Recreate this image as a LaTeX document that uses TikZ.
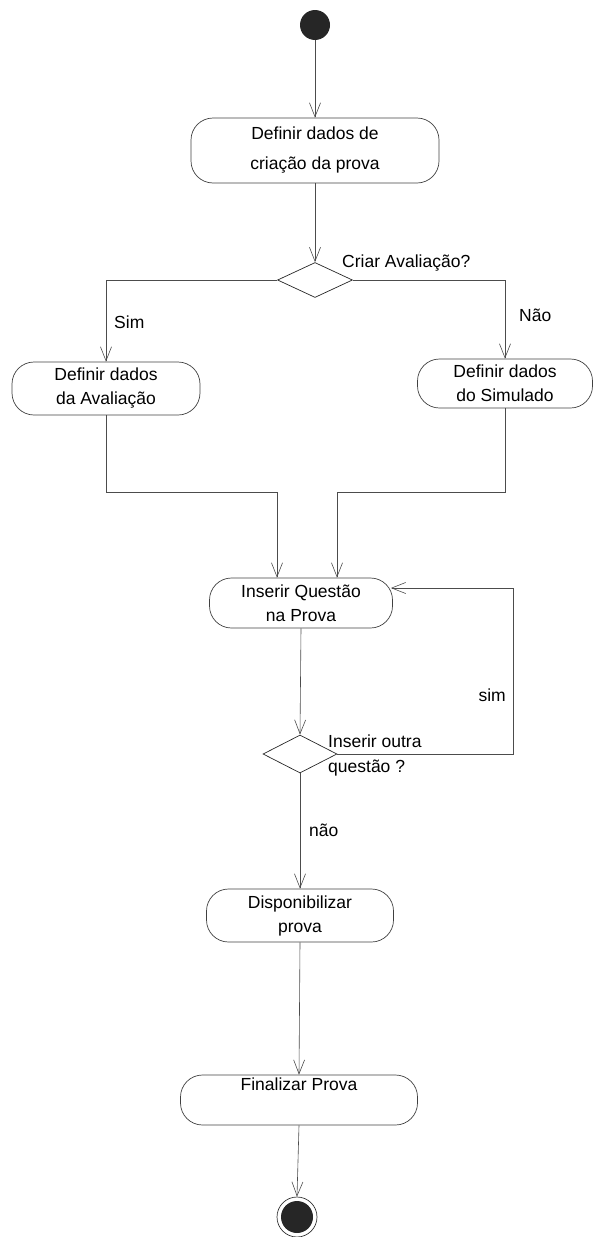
\documentclass[tikz,border=0pt]{standalone}
\usepackage{fontspec}
\setmainfont{Liberation Sans}
\usetikzlibrary{shapes.geometric,arrows.meta,calc}
\begin{document}
\begin{tikzpicture}[x=1pt,y=-1pt,
  act/.style={draw=black!75, line width=0.7pt, rounded corners=22pt, inner sep=0pt, align=center,
              font=\fontsize{17.5}{24}\selectfont},
  dec/.style={draw=black!85, line width=0.7pt, diamond, inner sep=0pt},
  flow/.style={draw=black!70, line width=0.6pt, -{Straight Barb[length=14pt,width=11pt]}},
  link/.style={draw=black!70, line width=0.6pt},
  lbl/.style={font=\fontsize{17.5}{25}\selectfont, inner sep=0pt}]
\useasboundingbox (0,0) rectangle (592,1237);

% start / end
\node[circle, fill=black!85, minimum size=30pt, inner sep=0pt] (start) at (315,25) {};
\node[circle, draw=black!80, line width=0.7pt, minimum size=40pt, inner sep=0pt] (endo) at (297,1217) {};
\node[circle, fill=black!85, minimum size=32pt, inner sep=0pt] (endi) at (297,1217) {};

% actions
\node[act, minimum width=248pt, minimum height=65pt] (b1) at (315,150.5) {Definir dados de\\[6pt]criação da prova};
\node[act, minimum width=188pt, minimum height=53pt] (b2) at (106,388.5) {Definir dados\\da Avaliação};
\node[act, minimum width=175pt, minimum height=49pt] (b3) at (505,383.5) {Definir dados\\do Simulado};
\node[act, minimum width=183pt, minimum height=50pt] (b4) at (301,603) {Inserir Questão\\na Prova};
\node[act, minimum width=187pt, minimum height=53pt] (b5) at (300,915.5) {Disponibilizar\\prova};
\node[act, minimum width=237pt, minimum height=50pt] (b6) at (299,1100) {Finalizar Prova\\\strut};

% decisions
\node[dec, minimum width=75pt, minimum height=35pt] (d1) at (315,280) {};
\node[dec, minimum width=74pt, minimum height=38pt] (d2) at (300,754) {};

% bends
\coordinate (m1) at (277,492);
\coordinate (m2) at (337,492);
\coordinate (lp) at (513,588);

% connectors
\draw[flow] (start) -- (b1);
\draw[flow] (b1) -- (d1);
\draw[flow] (d1.west) -| (b2.north);
\draw[flow] (d1.east) -| (b3.north);
\draw[link] (b2.south) |- (m1);
\draw[flow] (m1) -- (m1 |- b4.north);
\draw[link] (b3.south) |- (m2);
\draw[flow] (m2) -- (m2 |- b4.north);
\draw[flow] (b4.south) -- (d2.north);
\draw[link] (d2.east) -| (lp);
\draw[flow] (lp) -- ($(b4.east |- lp)+(-2,0)$);
\draw[flow] (d2.south) -- (b5.north);
\draw[flow] (b5.south) -- (b6.north);
\draw[flow] (b6.south) -- (endo.north);

% labels
\node[lbl, anchor=west] (t1) at (342,263) {Criar Avaliação?};
\node[lbl, anchor=west] (t2) at (114,322) {Sim};
\node[lbl, anchor=west] (t3) at (519,315) {Não};
\node[lbl, anchor=east] (t4) at (506,695) {sim};
\node[lbl, anchor=west, align=left] (t5) at (328,755) {Inserir outra\\questão ?};
\node[lbl, anchor=west] (t6) at (309,830) {não};
\end{tikzpicture}
\end{document}
